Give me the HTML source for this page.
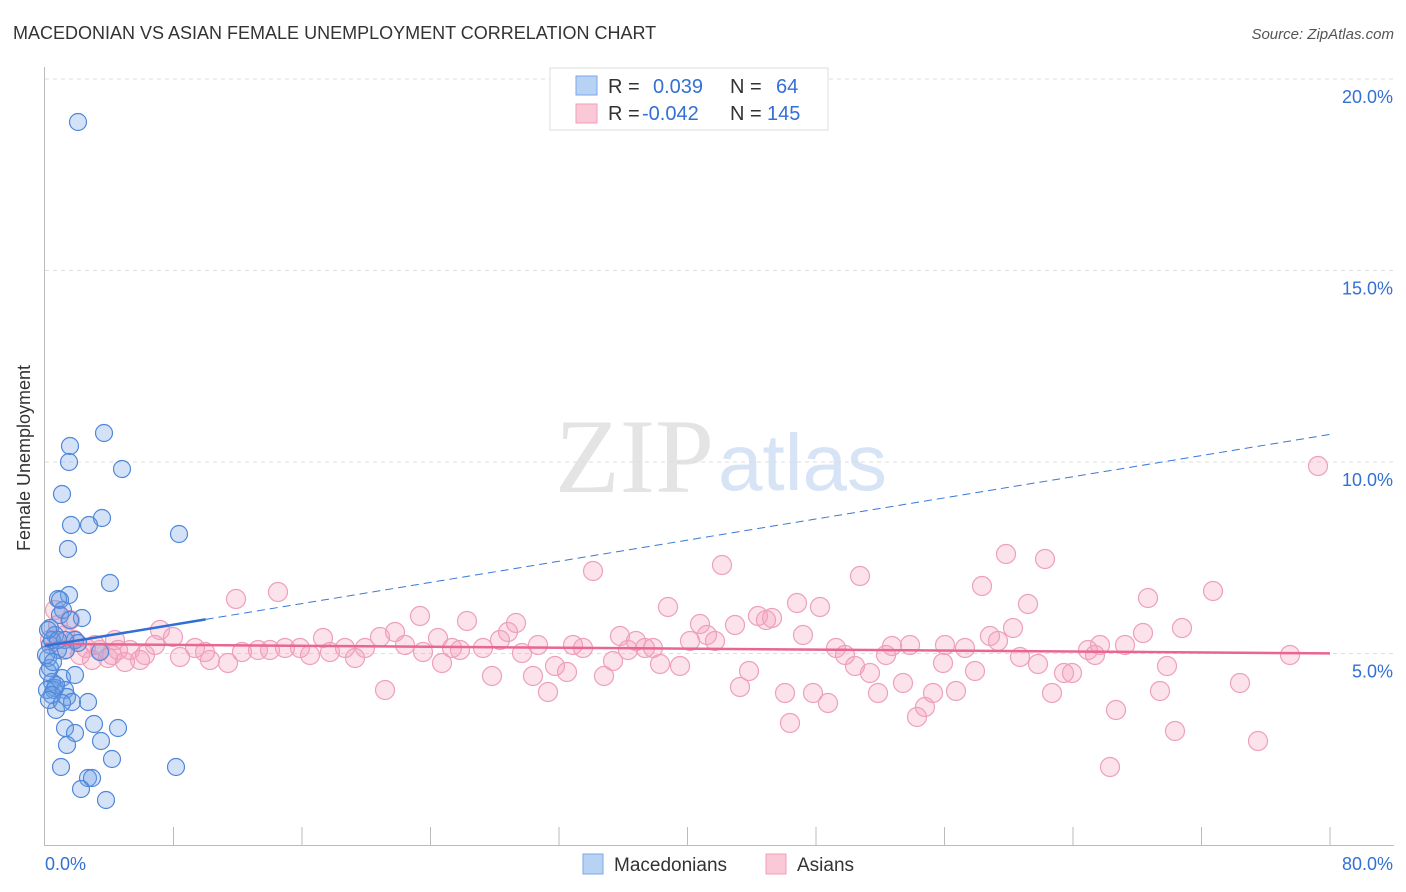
<!DOCTYPE html>
<html><head><meta charset="utf-8"><style>
body{margin:0;background:#fff;font-family:"Liberation Sans",sans-serif;}
svg{display:block}
</style></head><body>
<svg id="chart" width="1406" height="892" xmlns="http://www.w3.org/2000/svg">
<text x="13" y="39" font-size="18" fill="#333">MACEDONIAN VS ASIAN FEMALE UNEMPLOYMENT CORRELATION CHART</text>
<text x="1394" y="39" font-size="15" fill="#555" text-anchor="end" font-style="italic">Source: ZipAtlas.com</text>
<text x="714" y="492" font-size="106" fill="#e4e4e4" text-anchor="end" font-family="Liberation Serif,serif">ZIP</text>
<text x="718" y="490" font-size="80" fill="#d6e4f5">atlas</text>
<g id="grid"></g><g id="axes"></g><g id="pts"></g><g id="trends"></g>
<text x="30" y="458" font-size="18" fill="#333" text-anchor="middle" transform="rotate(-90 30 458)">Female Unemployment</text>
<g>
<rect x="550" y="68" width="278" height="62" fill="#fff" stroke="#ddd"/>
<rect x="576" y="76" width="21" height="19" fill="#b8d2f4" stroke="#7aa8e6"/>
<rect x="576" y="104" width="21" height="19" fill="#fbc8d8" stroke="#ef9fb9"/>
<text x="608" y="93" font-size="20" fill="#333">R =</text><text x="653" y="93" font-size="20" fill="#3370d4">0.039</text>
<text x="730" y="93" font-size="20" fill="#333">N =</text><text x="776" y="93" font-size="20" fill="#3370d4">64</text>
<text x="608" y="120" font-size="20" fill="#333">R =</text><text x="642" y="120" font-size="20" fill="#3370d4">-0.042</text>
<text x="730" y="120" font-size="20" fill="#333">N =</text><text x="767" y="120" font-size="20" fill="#3370d4">145</text>
</g>
<g>
<rect x="583" y="854" width="20" height="20" fill="#b8d2f4" stroke="#7aa8e6"/><text x="614" y="871" font-size="19" fill="#333">Macedonians</text>
<rect x="766" y="854" width="20" height="20" fill="#fbc8d8" stroke="#ef9fb9"/><text x="797" y="871" font-size="19" fill="#333">Asians</text>
</g>
</svg>
<script>
const xTickLabels=["0.0%","80.0%"];
const yTicks=[5,10,15,20];
const yTickLabels=["5.0%","10.0%","15.0%","20.0%"];
const bluePx=[[78,122],[104,433],[70,446],[69,462],[122,469],[62,494],[102,518],[71,525],[89,525],[68,549],[179,534],[110,583],[69,595],[58,599],[63,610],[82,618],[50,628],[55,635],[50,645],[58,650],[48,658],[50,668],[62,678],[75,675],[52,682],[55,688],[65,690],[67,697],[72,702],[88,702],[56,710],[94,724],[65,728],[118,728],[75,733],[67,745],[101,741],[112,759],[61,767],[176,767],[88,778],[92,778],[81,789],[106,800],[52,640],[48,630],[54,690],[56,685],[60,600],[75,640],[78,643],[65,640],[100,652],[46,655],[48,672],[53,662],[60,615],[70,620],[47,690],[52,695],[66,650],[58,640],[49,700],[62,703]];
const pinkPx=[[278,592],[236,599],[160,630],[173,637],[155,645],[130,650],[118,650],[108,658],[140,660],[112,655],[100,650],[86,648],[74,640],[65,635],[58,625],[55,610],[180,657],[195,648],[210,660],[228,663],[242,652],[258,650],[270,650],[285,648],[300,648],[310,655],[323,638],[330,652],[345,648],[355,658],[365,648],[385,690],[380,637],[395,632],[405,645],[420,616],[423,652],[438,638],[442,663],[452,648],[460,650],[467,621],[483,648],[492,676],[500,640],[508,632],[516,623],[522,653],[533,676],[538,645],[548,692],[555,666],[567,672],[573,645],[583,648],[593,571],[604,676],[613,661],[620,636],[628,650],[636,641],[645,648],[653,648],[660,664],[668,607],[680,666],[690,641],[700,624],[707,635],[715,641],[722,565],[735,625],[740,687],[749,671],[758,616],[766,620],[772,618],[785,693],[790,723],[797,603],[803,635],[813,693],[820,607],[828,703],[836,648],[845,655],[855,666],[860,576],[870,673],[878,693],[886,655],[892,646],[903,683],[910,645],[917,717],[925,707],[933,693],[943,663],[945,645],[956,691],[965,648],[975,671],[982,586],[990,636],[998,641],[1006,554],[1013,628],[1020,657],[1028,604],[1038,664],[1045,559],[1052,693],[1064,673],[1072,673],[1088,650],[1095,655],[1100,645],[1110,767],[1116,710],[1125,645],[1143,633],[1148,598],[1160,691],[1167,666],[1175,731],[1182,628],[1213,591],[1240,683],[1258,741],[1290,655],[1318,466],[92,660],[125,662],[145,655],[205,652],[64,650],[80,655],[95,645],[70,620],[50,640],[115,640]];
const blueX=bluePx.map(p=>(p[0]-45)/16.0625), blueY=bluePx.map(p=>(845-p[1])/38.3);
const pinkX=pinkPx.map(p=>(p[0]-45)/16.0625), pinkY=pinkPx.map(p=>(845-p[1])/38.3);
const blueTrend=[5.2,0.069], blueSolidEnd=10;
const pinkTrend=[5.25,-0.0031];
const X=v=>45+v*16.0625, Y=v=>845-v*38.3;
const NS="http://www.w3.org/2000/svg";
function mk(t,a,p){const e=document.createElementNS(NS,t);for(const k in a)e.setAttribute(k,a[k]);p.appendChild(e);return e;}
const grid=document.getElementById('grid'),axes=document.getElementById('axes'),pts=document.getElementById('pts'),tr=document.getElementById('trends');
yTicks.forEach((v,i)=>{
 const l=mk('line',{x1:45,x2:1394,y1:Y(v),y2:Y(v),stroke:'#ddd','stroke-dasharray':'4,4'},grid);
 
 
 const t=mk('text',{x:1393,y:Y(v)+24,'font-size':18,fill:'#3370d4','text-anchor':'end'},axes);t.textContent=yTickLabels[i];
 
 
});
const ax=mk('line',{x1:44.5,x2:44.5,y1:67,y2:845,stroke:'#bbb'},axes);


const bx=mk('line',{x1:44,x2:1394,y1:845.5,y2:845.5,stroke:'#bbb'},axes);


for(let i=1;i<=10;i++){const tk=mk('line',{x1:X(i*8),x2:X(i*8),y1:827,y2:845,stroke:'#bbb'},axes);
 
 }
[[0,45,'start'],[80,1393,'end']].forEach((d,i)=>{const t=mk('text',{x:d[1],y:870,'font-size':18,fill:'#3370d4','text-anchor':d[2]},axes);t.textContent=xTickLabels[i];
 
 });
pinkX.forEach((x,i)=>{const c=mk('circle',{cx:X(x),cy:Y(pinkY[i]),r:9.5,fill:'rgba(244,160,188,0.3)',stroke:'#eea0bb','stroke-width':1.2},pts);
 
 });
blueX.forEach((x,i)=>{const c=mk('circle',{cx:X(x),cy:Y(blueY[i]),r:8.5,fill:'rgba(110,160,230,0.3)',stroke:'#4f87da','stroke-width':1.2},pts);
 
 });
const f=(t,x)=>t[0]+t[1]*x;
const pl=mk('line',{x1:X(0),y1:Y(f(pinkTrend,0)),x2:X(80),y2:Y(f(pinkTrend,80)),stroke:'#e8668f','stroke-width':2.5},tr);


const bd=mk('line',{x1:X(blueSolidEnd),y1:Y(f(blueTrend,blueSolidEnd)),x2:X(80),y2:Y(f(blueTrend,80)),stroke:'#3a78d8','stroke-width':1,'stroke-dasharray':'8,5'},tr);


const bs=mk('line',{x1:X(0),y1:Y(f(blueTrend,0)),x2:X(blueSolidEnd),y2:Y(f(blueTrend,blueSolidEnd)),stroke:'#2f6fd6','stroke-width':2.5},tr);


</script>
</body></html>
